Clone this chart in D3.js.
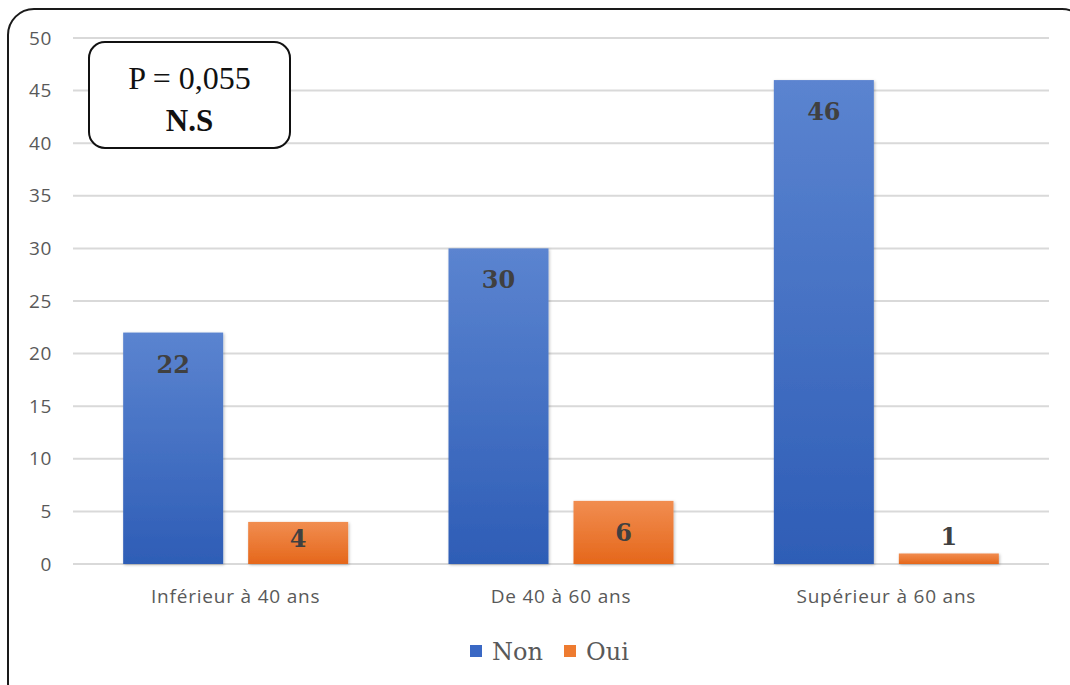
<!DOCTYPE html>
<html>
<head>
<meta charset="utf-8">
<script src="https://cdn.jsdelivr.net/npm/d3@7"></script>
<style>
  body { margin: 0; background: #fff; }
  svg { display: block; }
</style>
</head>
<body>
<svg id="chart" width="1070" height="685"></svg>
<script>
// chart data
const categories = ['Inférieur à 40 ans', 'De 40 à 60 ans', 'Supérieur à 60 ans'];
const seriesNames = ['Non', 'Oui'];
const nonValues = [22, 30, 46];
const ouiValues = [4, 6, 1];
const yTicks = [0, 5, 10, 15, 20, 25, 30, 35, 40, 45, 50];

const WIDTH = 1070, HEIGHT = 685;
const MARGIN = {left: 73, right: 21, top: 38, bottom: 121};

const svg = d3.select('#chart');

// gradients for bars
const defs = svg.append('defs');
const grads = [['gNon', '#5b84d0', '#2e5db6'], ['gOui', '#f18d50', '#e5671b']];
grads.forEach(([id, c1, c2]) => {
    const g = defs.append('linearGradient').attr('id', id)
        .attr('x1', 0).attr('y1', 0).attr('x2', 0).attr('y2', 1);
    g.append('stop').attr('offset', '0%').attr('stop-color', c1);
    g.append('stop').attr('offset', '100%').attr('stop-color', c2);
});
const shadow = defs.append('filter').attr('id', 'shadow')
    .attr('x', '-10%').attr('y', '-10%').attr('width', '130%').attr('height', '130%');
shadow.append('feDropShadow').attr('dx', 1).attr('dy', 1).attr('stdDeviation', 1.5)
    .attr('flood-color', '#000').attr('flood-opacity', 0.25);

// outer frame
svg.append('rect')
    .attr('x', 8).attr('y', 9)
    .attr('width', 1080).attr('height', 700)
    .attr('rx', 26).attr('ry', 26)
    .attr('fill', 'none').attr('stroke', '#1a1a1a').attr('stroke-width', 2);

// scales
const xScale = d3.scaleBand()
    .domain(categories)
    .range([MARGIN.left, WIDTH - MARGIN.right]);

const yScale = d3.scaleLinear()
    .domain([0, 50])
    .range([HEIGHT - MARGIN.bottom, MARGIN.top]);

// gridlines
svg.append('g')
    .selectAll('line')
    .data(yTicks)
    .enter()
    .append('line')
    .attr('x1', MARGIN.left).attr('x2', WIDTH - MARGIN.right)
    .attr('y1', d => yScale(d)).attr('y2', d => yScale(d))
    .attr('stroke', '#d9d9d9').attr('stroke-width', 2);

// y-axis labels
const yAxis = svg.append('g')
    .attr('transform', `translate(${MARGIN.left - 21}, 0)`)
    .call(d3.axisLeft(yScale).tickValues(yTicks).tickSize(0).tickPadding(0));
yAxis.select('.domain').remove();
yAxis.selectAll('text')
    .style('font-family', '"Open Sans", sans-serif')
    .style('font-size', '19px')
    .style('letter-spacing', '0.6px')
    .attr('fill', '#595959');

// x-axis labels
const xAxis = svg.append('g')
    .attr('transform', `translate(0, ${HEIGHT - MARGIN.bottom + 39})`)
    .call(d3.axisBottom(xScale).tickSize(0).tickPadding(0));
xAxis.select('.domain').remove();
xAxis.selectAll('text')
    .attr('dy', 0)
    .style('font-family', '"Open Sans", sans-serif')
    .style('font-size', '19px')
    .style('letter-spacing', '0.8px')
    .attr('fill', '#595959');

// bars
const barW = 100, gap = 25;
const series = [
    {name: 'Non', values: nonValues, fill: 'url(#gNon)', offset: -(barW + gap) / 2},
    {name: 'Oui', values: ouiValues, fill: 'url(#gOui)', offset: (barW + gap) / 2}
];

// label inside end, pushed above when the bar is too short
function labelY(v) {
    if (v < 2) return yScale(v) - 8;
    return Math.min(yScale(v) + 40, yScale(0) - 17);
}

series.forEach((s) => {
    const rows = categories.map((c, i) => ({cat: c, v: s.values[i]}));
    const cx = (d) => xScale(d.cat) + xScale.bandwidth() / 2 + s.offset;

    svg.append('g')
        .selectAll('rect')
        .data(rows)
        .enter()
        .append('rect')
        .attr('x', d => cx(d) - barW / 2)
        .attr('y', d => yScale(d.v))
        .attr('width', barW)
        .attr('height', d => yScale(0) - yScale(d.v))
        .attr('fill', s.fill)
        .attr('filter', 'url(#shadow)');

    // data labels
    svg.append('g')
        .selectAll('text')
        .data(rows)
        .enter()
        .append('text')
        .attr('x', d => cx(d))
        .attr('y', d => labelY(d.v))
        .attr('text-anchor', 'middle')
        .style('font-family', '"DejaVu Serif", serif')
        .style('font-weight', 'bold')
        .style('font-size', '24px')
        .attr('fill', '#404040')
        .text(d => d.v);
});

// legend
const legend = svg.append('g').attr('transform', 'translate(470, 651)');
const legendX = [0, 94];
seriesNames.forEach((name, i) => {
    legend.append('rect')
        .attr('x', legendX[i]).attr('y', -6)
        .attr('width', 12).attr('height', 12)
        .attr('fill', i === 0 ? '#3a68c4' : '#ee7b30');
    legend.append('text')
        .attr('x', legendX[i] + 22).attr('y', 9)
        .style('font-family', '"DejaVu Serif", serif')
        .style('font-size', '24px')
        .attr('fill', '#595959')
        .text(name);
});

// p-value box
const box = svg.append('g');
box.append('rect')
    .attr('x', 89).attr('y', 42)
    .attr('width', 201).attr('height', 106)
    .attr('rx', 16).attr('ry', 16)
    .attr('fill', '#fff').attr('stroke', '#111').attr('stroke-width', 2);
box.append('text')
    .attr('x', 189.5).attr('y', 89)
    .attr('text-anchor', 'middle')
    .style('font-family', '"Liberation Serif", serif')
    .style('font-size', '32px')
    .attr('fill', '#111')
    .text('P = 0,055');
box.append('text')
    .attr('x', 189.5).attr('y', 131)
    .attr('text-anchor', 'middle')
    .style('font-family', '"Liberation Serif", serif')
    .style('font-weight', 'bold')
    .style('font-size', '31px')
    .attr('fill', '#111')
    .text('N.S');
</script>
</body>
</html>
